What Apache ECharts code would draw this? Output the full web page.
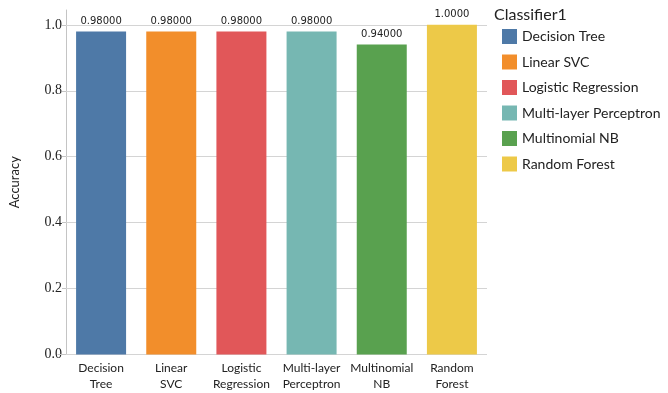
<!DOCTYPE html>
<html>
<head>
<meta charset="utf-8">
<script src="https://cdn.jsdelivr.net/npm/echarts@6/dist/echarts.min.js"></script>
<style>
  html, body { margin: 0; padding: 0; background: #fff; }
  #chart { width: 668px; height: 393px; }
</style>
</head>
<body>
<div id="chart"></div>
<script>
// Classifier accuracy comparison
const classifiers = ['Decision Tree', 'Linear SVC', 'Logistic Regression', 'Multi-layer Perceptron', 'Multinomial NB', 'Random Forest'];
const axisLabels = ['Decision\nTree', 'Linear\nSVC', 'Logistic\nRegression', 'Multi-layer\nPerceptron', 'Multinomial\nNB', 'Random\nForest'];
const accuracy = [0.98, 0.98, 0.98, 0.98, 0.94, 1.0];
const colors = ['#4e79a7', '#f28e2b', '#e15759', '#76b7b2', '#59a14f', '#edc948'];
const yTicks = [0, 0.2, 0.4, 0.6, 0.8, 1.0];

const sans = 'Lato';
const gridColor = '#d4d4d4';
const axisColor = '#c4c4c4';

const series = classifiers.map((name, i) => ({
  name: name,
  type: 'bar',
  barWidth: 50,
  barGap: '-100%',
  itemStyle: { color: colors[i] },
  data: accuracy.map((v, j) => (j === i ? v : null)),
  label: {
    show: true,
    position: 'top',
    distance: 5,
    fontFamily: 'DejaVu Sans',
    fontSize: 10,
    color: '#222',
    formatter: p => p.value.toPrecision(5)
  },
  z: 3,
  markLine: i === 0 ? {
    silent: true,
    symbol: 'none',
    label: { show: false },
    lineStyle: { color: gridColor, type: 'solid', width: 1 },
    data: yTicks.map(t => ({ yAxis: t })),
    z: 1
  } : undefined
}));

const chart = echarts.init(document.getElementById('chart'), null, { renderer: 'canvas' });
chart.setOption({
  animation: false,
  color: colors,
  title: {
    text: 'Classifier1',
    left: 489,
    top: 2,
    textStyle: { fontFamily: sans, fontSize: 16, fontWeight: 'normal', color: '#222' }
  },
  legend: {
    orient: 'vertical',
    left: 502,
    top: 29,
    padding: 0,
    icon: 'rect',
    itemWidth: 15,
    itemHeight: 15,
    itemGap: 10.5,
    textStyle: { fontFamily: sans, fontSize: 14, color: '#222' },
    data: classifiers
  },
  grid: { left: 60.5, right: 181, top: 10, bottom: 38.5 },
  xAxis: {
    type: 'category',
    data: axisLabels,
    axisLine: { show: false },
    axisTick: { show: false },
    axisLabel: {
      fontFamily: sans,
      fontSize: 12,
      color: '#222',
      lineHeight: 16,
      margin: 6,
      interval: 0
    }
  },
  yAxis: {
    type: 'value',
    min: 0,
    max: 1.045,
    interval: 0.2,
    name: 'Accuracy',
    nameLocation: 'middle',
    nameGap: 45,
    nameTextStyle: { fontFamily: sans, fontSize: 13, color: '#222' },
    axisLine: {
      show: true,
      lineStyle: { color: axisColor },
      // short downward extension of the axis line below the baseline
      symbol: ['rect', 'none'],
      symbolSize: [17, 1],
      symbolOffset: [0, 0]
    },
    axisTick: { show: true, length: 4, lineStyle: { color: axisColor } },
    splitLine: { show: false },
    axisLabel: {
      showMaxLabel: false,
      fontFamily: 'Liberation Serif',
      fontSize: 14,
      color: '#222',
      margin: 4,
      formatter: v => v.toFixed(1)
    }
  },
  series: series
});
</script>
</body>
</html>
